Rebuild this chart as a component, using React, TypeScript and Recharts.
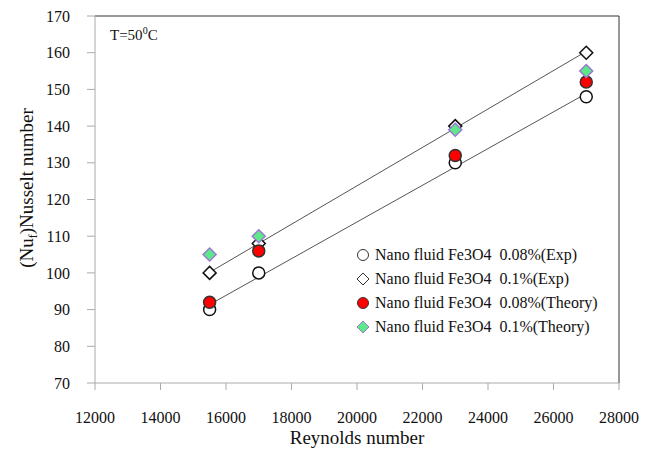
import React from "react";
import { ScatterChart, Scatter, XAxis, YAxis, ReferenceLine } from "recharts";

// Reynolds numbers of the test points
const reynolds = [15500, 17000, 23000, 27000];

// Nusselt numbers
const expNu008 = [90, 100, 130, 148];
const expNu01 = [100, 108, 140, 160];
const theoryNu008 = [92, 106, 132, 152];
const theoryNu01 = [105, 110, 139, 155];

const xTicks = [12000, 14000, 16000, 18000, 20000, 22000, 24000, 26000, 28000];
const yTicks = [70, 80, 90, 100, 110, 120, 130, 140, 150, 160, 170];

const FONT = "'Liberation Serif', 'Times New Roman', serif";

const toPoints = (values: number[]) =>
  reynolds.map((re, i) => ({ re, nu: values[i] }));

type ShapeProps = { cx?: number; cy?: number; fill?: string; stroke?: string };

const CircleMark = ({ cx = 0, cy = 0, fill, stroke }: ShapeProps) => (
  <circle cx={cx} cy={cy} r={6} fill={fill} stroke={stroke} strokeWidth={1.5} />
);

const DiamondMark = ({ cx = 0, cy = 0, fill, stroke }: ShapeProps) => (
  <polygon
    points={`${cx},${cy - 6.5} ${cx + 6.5},${cy} ${cx},${cy + 6.5} ${cx - 6.5},${cy}`}
    fill={fill}
    stroke={stroke}
    strokeWidth={1.5}
  />
);

const series = [
  { name: "Nano fluid Fe3O4  0.08%(Exp)", values: expNu008, fill: "#ffffff", stroke: "#111111", shape: "circle", fit: true },
  { name: "Nano fluid Fe3O4  0.1%(Exp)", values: expNu01, fill: "#ffffff", stroke: "#111111", shape: "diamond", fit: true },
  { name: "Nano fluid Fe3O4  0.08%(Theory)", values: theoryNu008, fill: "#ff0000", stroke: "#333333", shape: "circle", fit: false },
  { name: "Nano fluid Fe3O4  0.1%(Theory)", values: theoryNu01, fill: "#5ee88a", stroke: "#9a7ad0", shape: "diamond", fit: false },
];

const LegendBox = ({ x, y }: { x: number; y: number }) => (
  <g>
    {series.map((s, i) => {
      const cy = y + i * 24;
      const stroke = s.fit ? "#333" : s.stroke;
      return (
        <g key={s.name}>
          {s.shape === "circle" ? (
            <circle cx={x} cy={cy} r={5.5} fill={s.fill} stroke={stroke} strokeWidth={1} />
          ) : (
            <polygon
              points={`${x},${cy - 6} ${x + 6},${cy} ${x},${cy + 6} ${x - 6},${cy}`}
              fill={s.fill}
              stroke={stroke}
              strokeWidth={1}
            />
          )}
          <text
            x={x + 12}
            y={cy + 5}
            fontSize={16}
            fill="#111"
            style={{ whiteSpace: "pre", fontFamily: FONT }}
          >
            {s.name}
          </text>
        </g>
      );
    })}
  </g>
);

const renderYLabel = () => (
  <text
    x={33}
    y={188}
    transform="rotate(-90 33 188)"
    textAnchor="middle"
    fontSize={19}
    fill="#111"
    style={{ fontFamily: FONT }}
  >
    (Nu
    <tspan fontSize={12} dy={4}>f</tspan>
    <tspan dy={-4}>)Nusselt number</tspan>
  </text>
);

const renderXLabel = () => (
  <text
    x={357}
    y={444}
    textAnchor="middle"
    fontSize={19}
    fill="#111"
    style={{ fontFamily: FONT }}
  >
    Reynolds number
  </text>
);

const tickStyle = { fontSize: 16, fontFamily: FONT, fill: "#111", style: { fontFamily: FONT } };

export default function App() {
  return (
    <div
      style={{
        position: "absolute",
        left: 0,
        top: 0,
        width: 655,
        height: 450,
        background: "#fff",
        fontFamily: FONT,
      }}
    >
      <ScatterChart
        width={655}
        height={450}
        margin={{ top: 16, right: 36, bottom: 0, left: 0 }}
        style={{ fontFamily: FONT }}
      >
        <XAxis
          type="number"
          dataKey="re"
          domain={[12000, 28000]}
          ticks={xTicks}
          interval={0}
          height={67}
          stroke="#aaaaaa"
          tickSize={7}
          tickMargin={22}
          tick={tickStyle}
          label={{ content: renderXLabel }}
        />
        <YAxis
          type="number"
          dataKey="nu"
          domain={[70, 170]}
          ticks={yTicks}
          interval={0}
          width={95}
          stroke="#aaaaaa"
          tickSize={8}
          tickMargin={17}
          tick={tickStyle}
          label={{ content: renderYLabel }}
        />
        <ReferenceLine y={170} stroke="#333" strokeWidth={1} />
        <ReferenceLine x={28000} stroke="#333" strokeWidth={1} />
        {series.map((s) => (
          <Scatter
            key={s.name}
            name={s.name}
            data={toPoints(s.values)}
            fill={s.fill}
            stroke={s.stroke}
            shape={s.shape === "circle" ? CircleMark : DiamondMark}
            line={s.fit ? { stroke: "#555", strokeWidth: 1 } : false}
            lineType="fitting"
            isAnimationActive={false}
          />
        ))}
      </ScatterChart>
      <svg
        width={655}
        height={450}
        style={{ position: "absolute", left: 0, top: 0, pointerEvents: "none" }}
      >
        <text x={110} y={40} fontSize={15} fill="#111" style={{ fontFamily: FONT }}>
          T=50
          <tspan fontSize={10} dy={-6}>0</tspan>
          <tspan dy={6}>C</tspan>
        </text>
        <LegendBox x={363} y={255} />
      </svg>
    </div>
  );
}
